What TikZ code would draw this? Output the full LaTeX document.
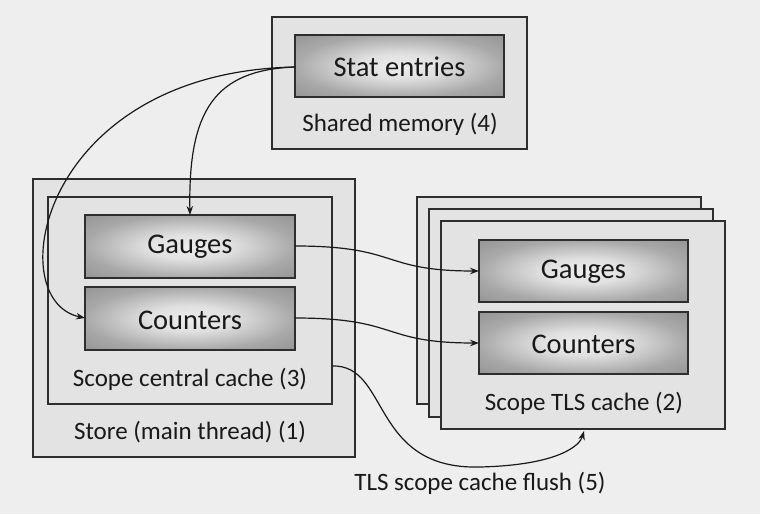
\documentclass[tikz,border=0pt]{standalone}
\usepackage{fontspec}
\setmainfont{Carlito}
\usetikzlibrary{arrows.meta}
\definecolor{bg}{HTML}{EEEEEE}
\definecolor{boxfill}{HTML}{E3E3E3}
\definecolor{edge}{HTML}{2E2E2E}
\pgfdeclareradialshading{boxshade}{\pgfpoint{0bp}{0bp}}{%
  color(0bp)=(black!7); color(10bp)=(black!12); color(25bp)=(black!34); color(36bp)=(black!42); color(50bp)=(black!42)}
\tikzset{
  outerbox/.style={draw=edge, line width=1.6pt, fill=boxfill},
  gradbox/.style={draw=edge, line width=1.6pt, shading=boxshade},
  bigtxt/.style={font=\fontsize{28.5}{32}\selectfont, text=black!90},
  smalltxt/.style={font=\fontsize{25}{29}\selectfont, text=black!90},
  conn/.style={draw=black!90, line width=1.2pt, -{Stealth[length=9pt,width=6.5pt]}}
}
\begin{document}
\begin{tikzpicture}[x=1pt,y=-1pt]
\fill[bg] (0,0) rectangle (760,514);
\useasboundingbox (0,0) rectangle (760,514);
% Shared memory
\draw[outerbox] (272,17) rectangle (527,149);
\draw[gradbox] (295,35) rectangle (504,97);
\node[bigtxt] (stat) at (399.5,67) {Stat entries};
\node[coordinate] (statW) at (295,67) {};
\node[smalltxt] (shmlbl) at (400,124) {Shared memory (4)};
% Store
\draw[outerbox] (33,179) rectangle (355,457);
\draw[outerbox] (48,197) rectangle (332,404);
\draw[gradbox] (85,215) rectangle (295,278);
\node[bigtxt] (g1) at (190,247) {Gauges};
\draw[gradbox] (85,287) rectangle (295,350);
\node[bigtxt] (c1) at (190,320) {Counters};
\node[coordinate] (g1N) at (190,215) {};
\node[coordinate] (g1E) at (295,246) {};
\node[coordinate] (c1W) at (85,318) {};
\node[coordinate] (c1E) at (295,318) {};
\node[coordinate] (scE) at (332,366) {};
\node[smalltxt] (sclbl) at (190,379) {Scope central cache (3)};
\node[smalltxt] (stlbl) at (190,432) {Store (main thread) (1)};
% TLS stack
\draw[outerbox] (417,197) rectangle (701,404);
\draw[outerbox] (429,209) rectangle (713,417);
\draw[outerbox] (441,221) rectangle (725,429);
\draw[gradbox] (479,240) rectangle (688,302);
\node[bigtxt] (g2) at (583.5,272) {Gauges};
\draw[gradbox] (479,312) rectangle (688,374);
\node[bigtxt] (c2) at (583.5,344) {Counters};
\node[coordinate] (g2W) at (479,271) {};
\node[coordinate] (c2W) at (479,343) {};
\node[coordinate] (tlsS) at (584,431) {};
\node[smalltxt] (tlslbl) at (584,403) {Scope TLS cache (2)};
\node[smalltxt] (flush) at (480,483) {TLS scope cache flush (5)};
% connectors
\draw[conn] (statW) .. controls (215,70) and (188,110) .. (g1N);
\draw[conn] (statW) .. controls (40,72) and (0,300) .. (c1W);
\draw[conn] (g1E) .. controls (400,246) and (380,271) .. (g2W);
\draw[conn] (c1E) .. controls (400,318) and (380,343) .. (c2W);
\draw[conn] (scE) .. controls (390,364) and (370,470) .. (480,467) .. controls (560,465) and (580,445) .. (tlsS);
\end{tikzpicture}
\end{document}
